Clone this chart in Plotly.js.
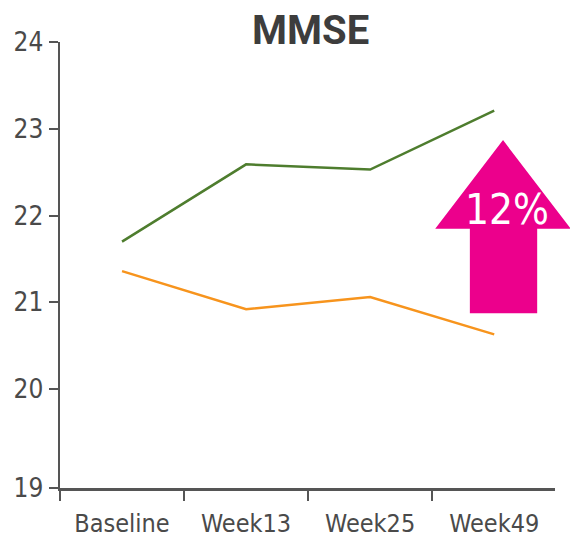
<!DOCTYPE html>
<html>
<head>
<meta charset="utf-8">
<script src="https://cdn.plot.ly/plotly-3.0.1.min.js"></script>
<style>html,body{margin:0;padding:0;background:#fff;}#chart{width:570px;height:541px;}</style>
</head>
<body>
<div id="chart"></div>
<script>
const categories = ["Baseline", "Week13", "Week25", "Week49"];
const greenValues = [21.70, 22.59, 22.53, 23.21];
const orangeValues = [21.36, 20.92, 21.06, 20.63];
const yTickVals = [18.86, 20, 21, 22, 23, 24];
const yTickText = ["19", "20", "21", "22", "23", "24"];
const arrowLabel = "12%";
const chartTitle = "MMSE";

const FONT = "'DejaVu Sans Condensed', 'Roboto', sans-serif";
const AXIS = "#555555";

const traces = [
  {x: categories, y: greenValues, type: "scatter", mode: "lines",
   line: {color: "#4e7d2e", width: 2.5}, hoverinfo: "skip"},
  {x: categories, y: orangeValues, type: "scatter", mode: "lines",
   line: {color: "#f7941d", width: 2.5}, hoverinfo: "skip"}
];

const layout = {
  width: 570, height: 541,
  margin: {l: 60, r: 15, t: 42, b: 53},
  paper_bgcolor: "#ffffff", plot_bgcolor: "#ffffff",
  showlegend: false,
  title: {text: "<b>" + chartTitle + "</b>", x: 0.545, xanchor: "center",
          yref: "container", y: 0.945, yanchor: "middle",
          font: {family: "Roboto, sans-serif", size: 40, color: "#3d3d3d"}},
  xaxis: {type: "category", categoryarray: categories, range: [-0.5, 3.49],
          showline: true, linecolor: AXIS, linewidth: 2.5,
          ticks: "outside", tickson: "boundaries", ticklen: 10, tickwidth: 2, tickcolor: AXIS,
          showgrid: false, zeroline: false, ticklabelstandoff: 11, tickangle: 0,
          tickfont: {family: FONT, size: 25, color: "#4a4a4a"}},
  yaxis: {range: [18.86, 24], tickvals: yTickVals, ticktext: yTickText,
          showline: true, linecolor: AXIS, linewidth: 2.5,
          ticks: "outside", ticklen: 9, tickwidth: 2, tickcolor: AXIS,
          showgrid: false, zeroline: false, ticklabelstandoff: 0,
          tickfont: {family: FONT, size: 26, color: "#4a4a4a"}},
  shapes: [{
    type: "path", xref: "paper", yref: "paper",
    path: "M 0.828 0.392 L 0.828 0.581 L 0.758 0.581 L 0.895 0.780 L 1.032 0.581 L 0.964 0.581 L 0.964 0.392 Z",
    fillcolor: "#ec008c", line: {width: 0}, layer: "above"
  }],
  annotations: [{
    text: arrowLabel, xref: "paper", yref: "paper", x: 0.903, y: 0.625,
    xanchor: "center", yanchor: "middle", showarrow: false,
    font: {family: FONT, size: 42, color: "#ffffff"}
  }]
};

Plotly.newPlot("chart", traces, layout, {displayModeBar: false, staticPlot: true});
</script>
</body>
</html>
